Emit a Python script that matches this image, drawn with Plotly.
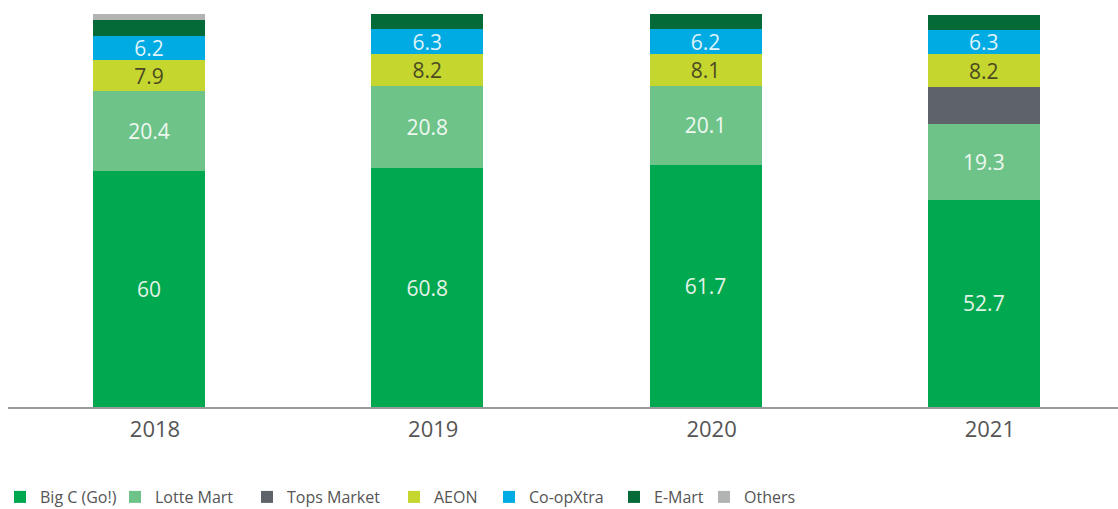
import plotly.graph_objects as go

years = ["2018", "2019", "2020", "2021"]
big_c = [60, 60.8, 61.7, 52.7]
lotte = [20.4, 20.8, 20.1, 19.3]
tops = [0, 0, 0, 9.5]
aeon = [7.9, 8.2, 8.1, 8.2]
coop = [6.2, 6.3, 6.2, 6.3]
emart = [3.9, 3.9, 3.9, 3.8]
others = [1.6, 0, 0, 0]

series = [
    ("Big C (Go!)", big_c, "#00a84f", "#e3f3e8", True),
    ("Lotte Mart", lotte, "#6ec389", "#eef8f1", True),
    ("Tops Market", tops, "#5e636a", "#ffffff", False),
    ("AEON", aeon, "#c5d62f", "#4b4a22", True),
    ("Co-opXtra", coop, "#00aae2", "#dff3fb", True),
    ("E-Mart", emart, "#046a38", "#ffffff", False),
    ("Others", others, "#b2b4b4", "#ffffff", False),
]

# legend square left positions in the reference (px)
legend_x = [6, 134, 266, 413, 508, 633, 723]

fig = go.Figure()
for i, (name, vals, color, tcolor, lab) in enumerate(series):
    lg = "legend" if i == 0 else f"legend{i+1}"
    fig.add_trace(go.Bar(
        x=years, y=vals, name=name,
        marker=dict(color=color, line=dict(width=0)),
        text=[f"{v:g}" if (lab and v) else "" for v in vals],
        textposition="inside", insidetextanchor="middle", textangle=0,
        constraintext="none", cliponaxis=False,
        textfont=dict(family="Open Sans", size=21, color=tcolor),
        hoverinfo="skip", legend=lg,
    ))

layout_legends = {}
for i, px in enumerate(legend_x):
    key = "legend" if i == 0 else f"legend{i+1}"
    layout_legends[key] = dict(
        orientation="h", xref="container", yref="container",
        x=max(px - 19, 0) / 1118, xanchor="left",
        y=1 - 497 / 509, yanchor="middle",
        font=dict(family="Open Sans", size=16, color="#555555"),
        bgcolor="rgba(0,0,0,0)", borderwidth=0, itemclick=False,
    )

fig.update_layout(
    width=1118, height=509,
    margin=dict(l=8, r=0, t=14, b=102),
    barmode="stack", bargap=0.598,
    plot_bgcolor="white", paper_bgcolor="white",
    showlegend=True,
    xaxis=dict(
        type="category", range=[-0.5066, 3.482],
        showline=True, linecolor="#9a9a9a", linewidth=2,
        ticks="", showgrid=False, zeroline=False,
        ticklabelshift=6, ticklabelstandoff=2,
        tickfont=dict(family="Open Sans", size=22, color="#555555"),
    ),
    yaxis=dict(range=[0, 100], visible=False, showgrid=False, zeroline=False),
    **layout_legends,
)

fig.write_html("out.html", config={"displayModeBar": False},
               post_script="document.body.style.margin='0px';")
